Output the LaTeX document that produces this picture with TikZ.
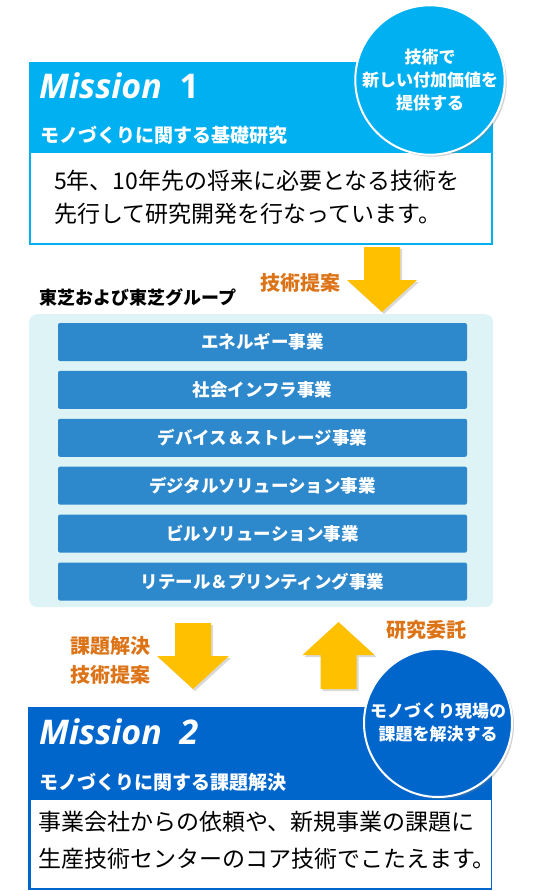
\documentclass[tikz,border=0pt]{standalone}
\usepackage{fontspec}
\setmainfont{Noto Sans CJK JP}
\newfontfamily\titlefont{Open Sans}
\usepackage{tikz}
\usetikzlibrary{positioning,shadows}
\definecolor{mcyan}{HTML}{00B0F0}
\definecolor{mblue}{HTML}{0066CC}
\definecolor{bizblue}{HTML}{2E88CC}
\definecolor{panelbg}{HTML}{DEF3F5}
\definecolor{orangetext}{HTML}{DC7317}
\definecolor{gold}{HTML}{FFC000}
\newcommand{\fsz}[2]{\fontsize{#1}{#2}\selectfont}
\tikzset{
  missionbox/.style={fill=#1,minimum width=464pt,minimum height=183pt,anchor=north west,inner sep=0pt},
  bodybox/.style={fill=white,minimum width=460pt,minimum height=90pt,anchor=north west,inner sep=0pt},
  missiontitle/.style={text=white,font=\titlefont\bfseries\itshape\fsz{34}{40},anchor=base west,inner sep=0pt},
  subtitle/.style={text=white,font=\bfseries\fsz{19}{22},anchor=west,inner sep=0pt},
  bodytext/.style={align=left,font=\fsz{23}{33},anchor=north west,inner sep=0pt},
  badge/.style={circle,fill=#1,draw=white,line width=2pt,minimum size=148pt,inner sep=0pt,
    align=center,text=white,font=\bfseries\fsz{17}{23},
    drop shadow={opacity=0.35,shadow xshift=2pt,shadow yshift=-2pt}},
  biz/.style={fill=bizblue,rounded corners=2pt,minimum width=409pt,minimum height=38pt,
    text=white,font=\bfseries\fsz{17.5}{20},inner sep=0pt},
  blockarrow/.style={fill=gold,drop shadow={opacity=0.3,shadow xshift=2pt,shadow yshift=-2pt}},
  propose/.style={text=orangetext,font=\bfseries\fsz{20}{29},align=center,inner sep=0pt}
}
\begin{document}
\begin{tikzpicture}[x=1pt,y=-1pt,node distance=9.5pt]
  \useasboundingbox (0,0) rectangle (555,891);
  \node[missionbox=mcyan] (m1) at (29,62) {};
  \node[bodybox] (m1body) at (31,153) {};
  \node[missiontitle] (m1title) at (39,98) {Mission\ \ {\upshape 1}};
  \node[subtitle] (m1sub) at (40,135) {モノづくりに関する基礎研究};
  \node[bodytext] (m1text) at (54,170) {5年、10年先の将来に必要となる技術を\\先行して研究開発を行なっています。};
  \node[badge=mcyan] (m1badge) at (430,80) {技術で\\新しい付加価値を\\提供する};

  \node[anchor=west,font=\bfseries\fsz{18}{22},inner sep=0pt] (group) at (39,297) {東芝および東芝グループ};
  \node[propose] (prop1) at (300,283) {技術提案};
  \coordinate (a1) at (382,247);
  \fill[blockarrow] (a1) ++(-18,0) -- ++(36,0) -- ++(0,33) -- ++(17,0) -- ++(-35,32) -- ++(-35,-32) -- ++(17,0) -- cycle;

  \node[fill=panelbg,rounded corners=8pt,minimum width=464pt,minimum height=293pt,anchor=north west,inner sep=0pt] (panel) at (29,314) {};
  \node[biz] (b1) at (262.5,342) {エネルギー事業};
  \node[biz,below=of b1] (b2) {社会インフラ事業};
  \node[biz,below=of b2] (b3) {デバイス＆ストレージ事業};
  \node[biz,below=of b3] (b4) {デジタルソリューション事業};
  \node[biz,below=of b4] (b5) {ビルソリューション事業};
  \node[biz,below=of b5] (b6) {リテール＆プリンティング事業};

  \node[propose] (prop2) at (110,660) {課題解決\\技術提案};
  \node[propose] (req) at (426,630) {研究委託};
  \coordinate (a2) at (193,623);
  \fill[blockarrow] (a2) ++(-18,0) -- ++(36,0) -- ++(0,33) -- ++(18,0) -- ++(-36,33) -- ++(-36,-33) -- ++(18,0) -- cycle;
  \coordinate (a3) at (338.5,689);
  \fill[blockarrow] (a3) ++(-18,0) -- ++(36,0) -- ++(0,-34) -- ++(18,0) -- ++(-36,-33) -- ++(-36,33) -- ++(18,0) -- cycle;

  \node[missionbox=mblue] (m2) at (28,707) {};
  \node[bodybox,minimum height=88pt] (m2body) at (31,800) {};
  \node[missiontitle] (m2title) at (39,744) {Mission\ \ 2};
  \node[subtitle] (m2sub) at (39,782) {モノづくりに関する課題解決};
  \node[bodytext,font=\fsz{23}{37}] (m2text) at (38,811) {事業会社からの依頼や、新規事業の課題に\\生産技術センターのコア技術でこたえます。};
  \node[badge=mblue] (m2badge) at (438,723) {モノづくり現場の\\課題を解決する};
\end{tikzpicture}
\end{document}
